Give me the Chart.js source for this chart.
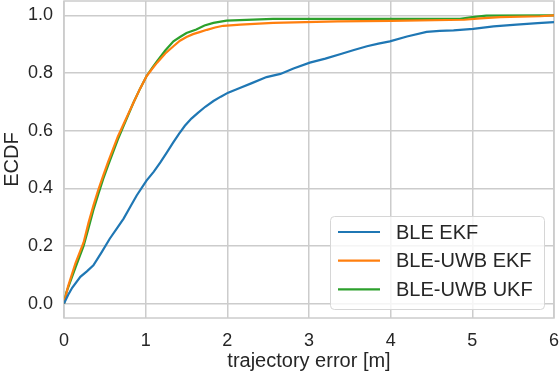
<!DOCTYPE html>
<html>
<head>
<meta charset="utf-8">
<script src="https://cdn.jsdelivr.net/npm/chart.js@4"></script>
<style>
  body { margin: 0; background: #fff; }
</style>
</head>
<body>
<canvas id="ecdfChart" width="560" height="374"></canvas>
<script>
// ECDF curves (x = trajectory error in m)
const bleEkfX = [0, 0.05, 0.1, 0.2, 0.28, 0.36, 0.46, 0.56, 0.65, 0.73, 0.81, 0.89, 1.01, 1.1, 1.18, 1.26, 1.34, 1.41, 1.48, 1.56, 1.64, 1.73, 1.83, 1.92, 2.01, 2.16, 2.3, 2.48, 2.65, 2.81, 3.01, 3.2, 3.4, 3.55, 3.71, 3.85, 3.99, 4.2, 4.44, 4.6, 4.77, 5.01, 5.26, 5.54, 5.8, 6.0];
const bleEkfY = [0, 0.03, 0.055, 0.093, 0.112, 0.133, 0.178, 0.225, 0.262, 0.295, 0.335, 0.375, 0.427, 0.458, 0.49, 0.525, 0.56, 0.59, 0.617, 0.642, 0.662, 0.683, 0.703, 0.718, 0.732, 0.749, 0.765, 0.786, 0.797, 0.816, 0.836, 0.85, 0.867, 0.88, 0.893, 0.902, 0.91, 0.927, 0.943, 0.946, 0.948, 0.953, 0.962, 0.968, 0.973, 0.977];

const uwbEkfX = [0, 0.05, 0.14, 0.24, 0.3, 0.36, 0.42, 0.48, 0.54, 0.6, 0.66, 0.73, 0.79, 0.85, 0.93, 1.01, 1.08, 1.14, 1.24, 1.34, 1.42, 1.5, 1.58, 1.66, 1.75, 1.85, 1.95, 2.16, 2.56, 3.35, 4.0, 4.9, 5.1, 5.34, 5.83, 6.0];
const uwbEkfY = [0, 0.06, 0.14, 0.212, 0.28, 0.34, 0.395, 0.444, 0.492, 0.536, 0.58, 0.623, 0.66, 0.697, 0.745, 0.789, 0.815, 0.836, 0.868, 0.893, 0.912, 0.925, 0.935, 0.942, 0.95, 0.958, 0.964, 0.968, 0.974, 0.979, 0.981, 0.985, 0.99, 0.994, 0.997, 1.0];

const uwbUkfX = [0, 0.03, 0.14, 0.24, 0.3, 0.36, 0.42, 0.48, 0.54, 0.6, 0.66, 0.73, 0.79, 0.85, 0.93, 1.01, 1.08, 1.14, 1.24, 1.34, 1.42, 1.5, 1.62, 1.72, 1.83, 1.99, 2.56, 3.5, 4.85, 5.0, 5.17, 6.0];
const uwbUkfY = [0, 0.04, 0.125, 0.2, 0.262, 0.325, 0.38, 0.433, 0.48, 0.525, 0.57, 0.617, 0.657, 0.697, 0.745, 0.789, 0.818, 0.841, 0.878, 0.91, 0.925, 0.939, 0.951, 0.965, 0.974, 0.982, 0.988, 0.988, 0.988, 0.994, 0.999, 1.0];

const seriesNames = ['BLE EKF', 'BLE-UWB EKF', 'BLE-UWB UKF'];
const seriesColors = ['#1f77b4', '#ff7f0e', '#2ca02c'];
const xTicks = [0, 1, 2, 3, 4, 5, 6];
const yTicks = [0, 0.2, 0.4, 0.6, 0.8, 1.0];

const FONT = '"Liberation Sans", Arial, sans-serif';
const TXT = '#262626';
const GRID = '#cccccc';

function pts(xs, ys) {
  return xs.map((x, i) => ({ x: x, y: ys[i] }));
}

const series = [pts(bleEkfX, bleEkfY), pts(uwbEkfX, uwbEkfY), pts(uwbUkfX, uwbUkfY)];

// no extra room for overhanging tick labels, the frame sits at the canvas edge
function noOverhang(s) {
  s.paddingTop = 0;
  s.paddingBottom = 0;
  s.paddingLeft = 0;
  s.paddingRight = 0;
}

// frame + legend box inside the plot (matplotlib style)
const frameAndLegend = {
  id: 'frameAndLegend',
  beforeDatasetsDraw(chart) {
    const { ctx, chartArea: a } = chart;
    ctx.save();
    ctx.strokeStyle = GRID;
    ctx.lineWidth = 1.5;
    ctx.strokeRect(a.left, a.top, a.right - a.left, a.bottom - a.top);
    ctx.restore();
  },
  afterDraw(chart) {
    const ctx = chart.ctx;
    const bx = 330, by = 216, bw = 214, bh = 93;
    ctx.save();
    ctx.beginPath();
    ctx.roundRect(bx + 0.5, by + 0.5, bw, bh, 4);
    ctx.fillStyle = 'rgba(255,255,255,0.8)';
    ctx.fill();
    ctx.strokeStyle = '#d6d6d6';
    ctx.lineWidth = 1;
    ctx.stroke();
    ctx.font = '20px ' + FONT;
    ctx.textBaseline = 'middle';
    chart.data.datasets.forEach((ds, i) => {
      const y = 232 + i * 28.7;
      ctx.strokeStyle = ds.borderColor;
      ctx.lineWidth = 2.2;
      ctx.beginPath();
      ctx.moveTo(338, y);
      ctx.lineTo(380, y);
      ctx.stroke();
      ctx.fillStyle = TXT;
      ctx.fillText(ds.label, 396, y + 1);
    });
    ctx.restore();
  }
};

new Chart(document.getElementById('ecdfChart'), {
  type: 'line',
  data: {
    datasets: series.map((d, i) => ({
      label: seriesNames[i],
      data: d,
      borderColor: seriesColors[i],
      backgroundColor: seriesColors[i],
      borderWidth: 2.2,
      pointRadius: 0,
      tension: 0,
      fill: false
    }))
  },
  options: {
    responsive: false,
    animation: false,
    devicePixelRatio: 1,
    layout: { padding: { top: 1, right: 6, left: 0, bottom: 0 } },
    plugins: {
      legend: { display: false },
      tooltip: { enabled: false }
    },
    scales: {
      x: {
        type: 'linear',
        min: 0,
        max: 6,
        afterBuildTicks: s => { s.ticks = xTicks.map(v => ({ value: v })); },
        afterFit: s => { s.height = 56; noOverhang(s); },
        grid: { color: GRID, lineWidth: 1.5, drawTicks: false },
        border: { display: false },
        ticks: {
          color: TXT,
          padding: 12,
          maxRotation: 0,
          font: { family: FONT, size: 18 },
          callback: v => String(v)
        },
        title: {
          display: true,
          text: 'trajectory error [m]',
          color: TXT,
          font: { family: FONT, size: 20, lineHeight: 1.2 },
          padding: { top: 0, bottom: 1 }
        }
      },
      y: {
        type: 'linear',
        min: -0.05,
        max: 1.05,
        afterBuildTicks: s => { s.ticks = yTicks.map(v => ({ value: v })); },
        afterFit: s => { s.width = 64; noOverhang(s); },
        grid: { color: GRID, lineWidth: 1.5, drawTicks: false },
        border: { display: false },
        ticks: {
          color: TXT,
          padding: 11,
          font: { family: FONT, size: 18 },
          callback: v => v.toFixed(1)
        },
        title: {
          display: true,
          text: 'ECDF',
          color: TXT,
          font: { family: FONT, size: 20, lineHeight: 1.2 },
          padding: { top: 0, bottom: 0 }
        }
      }
    }
  },
  plugins: [frameAndLegend]
});
</script>
</body>
</html>
